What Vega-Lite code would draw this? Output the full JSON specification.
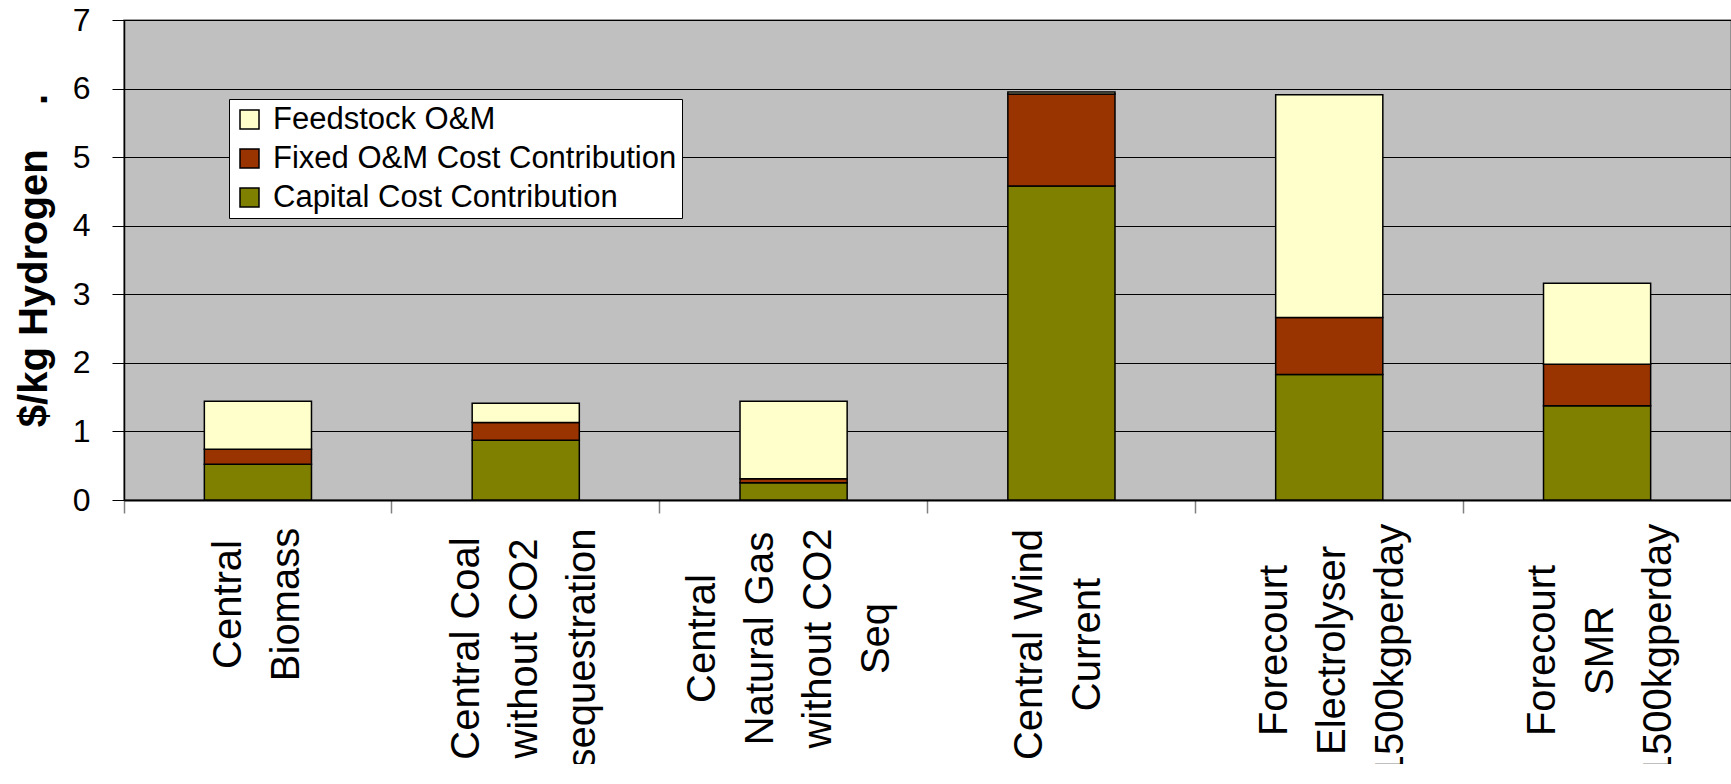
{
  "$schema": "https://vega.github.io/schema/vega-lite/v6.json",
  "width": 1607,
  "height": 480,
  "autosize": {"type": "none"},
  "padding": {"left": 124, "top": 20, "right": 0, "bottom": 264},
  "background": "white",
  "config": {
    "font": "Liberation Sans",
    "view": {"fill": "#C0C0C0", "stroke": "#808080", "strokeWidth": 1.5}
  },
  "data": {
    "values": [
      {"category": "Central\nBiomass", "component": "Capital Cost Contribution", "value": 0.52, "stackOrder": 1},
      {"category": "Central\nBiomass", "component": "Fixed O&M Cost Contribution", "value": 0.22, "stackOrder": 2},
      {"category": "Central\nBiomass", "component": "Feedstock O&M", "value": 0.70, "stackOrder": 3},
      {"category": "Central Coal\nwithout CO2\nsequestration", "component": "Capital Cost Contribution", "value": 0.87, "stackOrder": 1},
      {"category": "Central Coal\nwithout CO2\nsequestration", "component": "Fixed O&M Cost Contribution", "value": 0.26, "stackOrder": 2},
      {"category": "Central Coal\nwithout CO2\nsequestration", "component": "Feedstock O&M", "value": 0.28, "stackOrder": 3},
      {"category": "Central\nNatural Gas\nwithout CO2\nSeq", "component": "Capital Cost Contribution", "value": 0.25, "stackOrder": 1},
      {"category": "Central\nNatural Gas\nwithout CO2\nSeq", "component": "Fixed O&M Cost Contribution", "value": 0.06, "stackOrder": 2},
      {"category": "Central\nNatural Gas\nwithout CO2\nSeq", "component": "Feedstock O&M", "value": 1.13, "stackOrder": 3},
      {"category": "Central Wind\nCurrent", "component": "Capital Cost Contribution", "value": 4.58, "stackOrder": 1},
      {"category": "Central Wind\nCurrent", "component": "Fixed O&M Cost Contribution", "value": 1.34, "stackOrder": 2},
      {"category": "Central Wind\nCurrent", "component": "Feedstock O&M", "value": 0.03, "stackOrder": 3},
      {"category": "Forecourt\nElectrolyser\n1500kgperday", "component": "Capital Cost Contribution", "value": 1.83, "stackOrder": 1},
      {"category": "Forecourt\nElectrolyser\n1500kgperday", "component": "Fixed O&M Cost Contribution", "value": 0.83, "stackOrder": 2},
      {"category": "Forecourt\nElectrolyser\n1500kgperday", "component": "Feedstock O&M", "value": 3.25, "stackOrder": 3},
      {"category": "Forecourt\nSMR\n1500kgperday", "component": "Capital Cost Contribution", "value": 1.375, "stackOrder": 1},
      {"category": "Forecourt\nSMR\n1500kgperday", "component": "Fixed O&M Cost Contribution", "value": 0.605, "stackOrder": 2},
      {"category": "Forecourt\nSMR\n1500kgperday", "component": "Feedstock O&M", "value": 1.18, "stackOrder": 3}
    ]
  },
  "mark": {"type": "bar", "stroke": "#000000", "strokeWidth": 1.5},
  "encoding": {
    "x": {
      "field": "category",
      "type": "nominal",
      "sort": null,
      "scale": {"paddingInner": 0.6, "paddingOuter": 0.3},
      "axis": {
        "title": null,
        "bandPosition": -0.75,
        "labelOffset": {
          "condition": [
            {"test": "indexof(datum.value, 'Biomass') >= 0", "value": -29},
            {"test": "indexof(datum.value, 'Coal') >= 0", "value": -59},
            {"test": "indexof(datum.value, 'Natural') >= 0", "value": -91},
            {"test": "indexof(datum.value, 'Wind') >= 0", "value": -31}
          ],
          "value": -54
        },
        "labelAngle": 270,
        "labelAlign": "center",
        "labelBaseline": "middle",
        "labelFont": "Liberation Sans",
        "labelFontSize": 40,
        "labelLineHeight": 58,
        "labelColor": "#000000",
        "labelLimit": 0,
        "labelOverlap": false,
        "labelExpr": "split(datum.label, '\\n')",
        "labelPadding": {
          "condition": [
            {"test": "indexof(datum.value, 'Biomass') >= 0", "value": 91},
            {"test": "indexof(datum.value, 'Coal') >= 0", "value": 135},
            {"test": "indexof(datum.value, 'Natural') >= 0", "value": 125},
            {"test": "indexof(datum.value, 'Wind') >= 0", "value": 131}
          ],
          "value": 137
        },
        "tickSize": 13,
        "tickColor": "#808080",
        "tickWidth": 1.5,
        "domainColor": "#000000",
        "domainWidth": 2,
        "grid": false
      }
    },
    "y": {
      "field": "value",
      "type": "quantitative",
      "stack": "zero",
      "scale": {"domain": [0, 7], "nice": false},
      "axis": {
        "title": "$/kg Hydrogen\u00a0\u00a0\u00a0\u00a0.",
        "titleFont": "Liberation Sans",
        "titleFontSize": 40,
        "titleFontWeight": "bold",
        "titleColor": "#000000",
        "titlePadding": 18,
        "values": [0, 1, 2, 3, 4, 5, 6, 7],
        "labelFont": "Liberation Sans",
        "labelFontSize": 32,
        "labelColor": "#000000",
        "labelPadding": 22,
        "tickSize": 12,
        "tickColor": "#000000",
        "tickWidth": 1,
        "gridColor": "#000000",
        "gridWidth": 1,
        "domainColor": "#000000",
        "domainWidth": 1.5
      }
    },
    "color": {
      "field": "component",
      "type": "nominal",
      "scale": {
        "domain": ["Feedstock O&M", "Fixed O&M Cost Contribution", "Capital Cost Contribution"],
        "range": ["#FFFFCC", "#993300", "#808000"]
      },
      "legend": {
        "title": null,
        "orient": "none",
        "legendX": 105,
        "legendY": 79,
        "fillColor": "#FFFFFF",
        "strokeColor": "#000000",
        "padding": 5,
        "symbolType": "square",
        "symbolSize": 361,
        "symbolStrokeColor": "#000000",
        "symbolStrokeWidth": 1.5,
        "symbolOpacity": 1,
        "labelFont": "Liberation Sans",
        "labelFontSize": 31,
        "labelColor": "#000000",
        "labelOffset": 8,
        "labelLimit": 0,
        "rowPadding": 7
      }
    },
    "order": {"field": "stackOrder", "type": "quantitative"}
  }
}
